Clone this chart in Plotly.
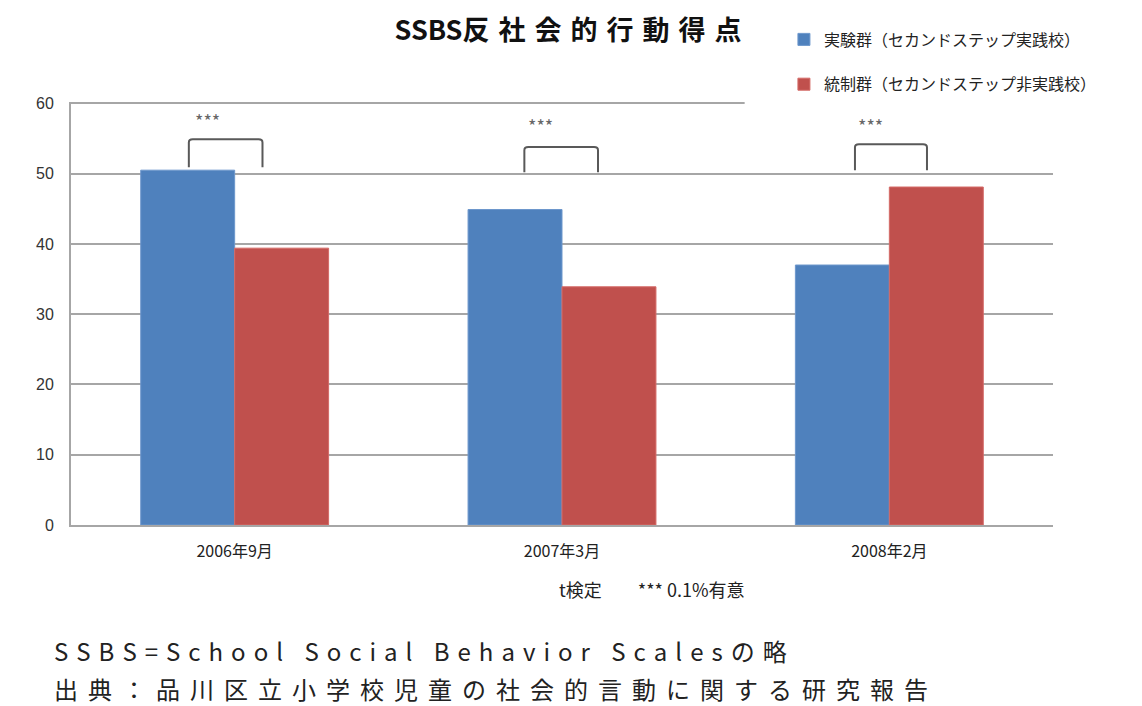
import plotly.graph_objects as go

# ---- data ----
categories = ["2006年9月", "2007年3月", "2008年2月"]
experimental = [50.5, 44.9, 37.0]
control = [39.4, 33.9, 48.1]
series_names = ["実験群（セカンドステップ実践校）", "統制群（セカンドステップ非実践校）"]
y_ticks = [0, 10, 20, 30, 40, 50, 60]
bracket_top = [54.9, 53.8, 54.2]
bracket_bottom = [50.9, 50.2, 50.5]
star_level = [57.6, 56.9, 56.9]
star_label = "***"
title_text = "SSBS反社会的行動得点"
note_text = "t検定　　*** 0.1%有意"
footnote1 = "SSBS=School Social Behavior Scalesの略"
footnote2 = "出典：品川区立小学校児童の社会的言動に関する研究報告"

# ---- style ----
FONT = "Noto Sans CJK JP"
BLUE = "#4F81BD"
RED = "#C0504D"
GRID = "#a6a6a6"
BR_LEFT = [-0.14, -0.115, -0.105]
BR_RIGHT = [0.085, 0.11, 0.115]
STAR_OFF = [-0.083, -0.067, -0.058]
W, H = 1134, 698          # page body has an 8px margin
ML, MR, MT, MB = 63, 89, 94, 181
PLOT_H = H - MT - MB
PAGE_BOTTOM = H - MB + 8  # page y of the plot bottom (value 0)
PAGE_LEFT = ML + 8


def spaced(s, sep):
    return sep.join(list(s))


def title_spaced(s):
    out = ""
    prev_cjk = False
    for ch in s:
        cjk = ord(ch) > 0x2E80
        if cjk and prev_cjk:
            out += "\u2004"
        out += ch
        prev_cjk = cjk
    return out


def py(page_y):
    return (PAGE_BOTTOM - page_y) / PLOT_H


def px(page_x):
    return (page_x - PAGE_LEFT) / 982


fig = go.Figure()
fig.add_trace(go.Bar(x=categories, y=experimental, name=series_names[0],
                     marker=dict(color=BLUE, line=dict(width=1, color="#6d97cc")),
                     legendgroup="a"))
fig.add_trace(go.Bar(x=categories, y=control, name=series_names[1],
                     marker=dict(color=RED, line=dict(width=1, color="#d46a67")),
                     legendgroup="b"))

shapes = []
annotations = []
for i in range(len(categories)):
    x0 = i + BR_LEFT[i]
    x1 = i + BR_RIGHT[i]
    yt = bracket_top[i]
    yb = bracket_bottom[i]
    rx, ry = 0.012, 0.45
    path = (f"M {x0},{yb} L {x0},{yt - ry} Q {x0},{yt} {x0 + rx},{yt} "
            f"L {x1 - rx},{yt} Q {x1},{yt} {x1},{yt - ry} L {x1},{yb}")
    shapes.append(dict(type="path", path=path, xref="x", yref="y",
                       line=dict(color="#595959", width=2)))
    annotations.append(dict(x=i + STAR_OFF[i], y=star_level[i], xref="x", yref="y",
                            text=star_label, showarrow=False,
                            font=dict(family=FONT, size=18, color="#666666")))

# hide the top gridline under the legend area
shapes.append(dict(type="rect", xref="paper", yref="paper", x0=0.686, x1=1.01,
                   y0=0.985, y1=1.012, fillcolor="white", line=dict(width=0),
                   layer="above"))

annotations.append(dict(x=px(52), y=py(650), xref="paper", yref="paper",
                        xanchor="left", yanchor="middle", showarrow=False,
                        text=spaced(footnote1, "\u2004"),
                        font=dict(family=FONT, size=24, color="#222222")))
annotations.append(dict(x=px(52), y=py(688), xref="paper", yref="paper",
                        xanchor="left", yanchor="middle", showarrow=False,
                        text=spaced(footnote2, "\u2005\u2006"),
                        font=dict(family=FONT, size=24, color="#222222")))
annotations.append(dict(x=px(557), y=py(589), xref="paper", yref="paper",
                        xanchor="left", yanchor="middle", showarrow=False,
                        text=note_text,
                        font=dict(family=FONT, size=18, color="#222222")))

fig.update_layout(
    width=W, height=H,
    margin=dict(l=ML, r=MR, t=MT, b=MB),
    paper_bgcolor="white", plot_bgcolor="white",
    barmode="group", bargap=0.426, bargroupgap=0,
    title=dict(text="<b>" + title_spaced(title_text) + "</b>", x=560 / W, xref="container",
               xanchor="center", y=1 - 23 / H, yref="container", yanchor="middle",
               font=dict(family=FONT, size=27, color="#111111")),
    legend=dict(x=0.726, y=1.188, xanchor="left", yanchor="top",
                tracegroupgap=21, traceorder="grouped",
                font=dict(family=FONT, size=16, color="#222222"),
                bgcolor="rgba(0,0,0,0)"),
    shapes=shapes,
    annotations=annotations,
    font=dict(family=FONT),
)
fig.update_xaxes(showline=True, linecolor=GRID, linewidth=2, showgrid=False,
                 ticks="", ticklabelstandoff=11,
                 tickfont=dict(family=FONT, size=16, color="#222222"))
fig.update_yaxes(range=[0, 60.2], tickvals=y_ticks, showline=True, linecolor=GRID,
                 linewidth=2, showgrid=True, gridcolor=GRID, gridwidth=2,
                 zeroline=False, ticks="", ticklabelstandoff=12,
                 tickfont=dict(family="Liberation Sans", size=16, color="#333333"))

fig.write_html("out.html")
